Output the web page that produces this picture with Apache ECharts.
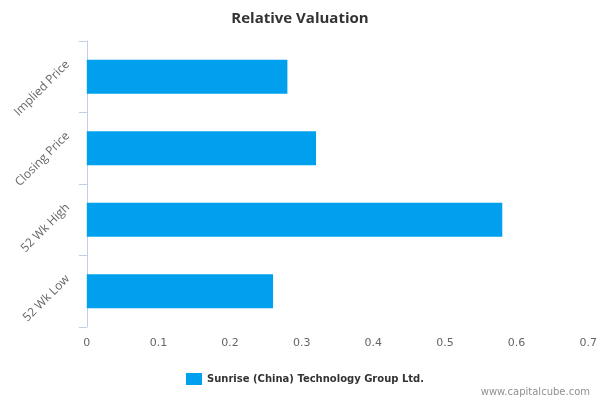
<!DOCTYPE html>
<html>
<head>
<meta charset="utf-8">
<script src="https://cdn.jsdelivr.net/npm/echarts@6/dist/echarts.min.js"></script>
<style>html,body{margin:0;padding:0;background:#fff;}#c{width:600px;height:400px;}</style>
</head>
<body>
<div id="c"></div>
<script>
const categories = ["Implied Price", "Closing Price", "52 Wk High", "52 Wk Low"];
const values = [0.28, 0.32, 0.58, 0.26];
const seriesName = "Sunrise (China) Technology Group Ltd.";
const titleText = "Relative Valuation";
const watermark = "www.capitalcube.com";

const chart = echarts.init(document.getElementById('c'));
chart.setOption({
  animation: false,
  textStyle: { fontFamily: 'DejaVu Sans' },
  title: {
    text: titleText, left: 'center', top: 6,
    textStyle: { fontSize: 15, fontWeight: 'bold', color: '#333', fontFamily: 'Open Sans' }
  },
  graphic: [{
    type: 'text', right: 10, top: 387,
    style: { text: watermark, fill: '#909090', fontSize: 10, fontFamily: 'DejaVu Sans' }
  }],
  legend: {
    bottom: 10, left: 181,
    itemWidth: 16, itemHeight: 12, itemGap: 8,
    icon: 'rect',
    textStyle: { fontSize: 10, fontWeight: 'bold', color: '#333', fontFamily: 'DejaVu Sans' },
    data: [seriesName]
  },
  grid: { left: 86, right: 9, top: 41, bottom: 73, containLabel: false },
  xAxis: {
    type: 'value', min: 0, max: 0.7, interval: 0.1,
    axisLine: { show: false }, axisTick: { show: false },
    splitLine: { show: false },
    axisLabel: { color: '#666', fontSize: 11, margin: 11, fontFamily: 'DejaVu Sans' }
  },
  yAxis: {
    type: 'category', data: categories, inverse: true,
    axisLine: { show: true, lineStyle: { color: '#c0d0e0', width: 1 } },
    axisTick: { show: true, length: 8, lineStyle: { color: '#c0d0e0' } },
    axisLabel: { rotate: 45, color: '#666', fontSize: 12, margin: 5, fontFamily: 'Open Sans',
                 verticalAlign: 'bottom', lineHeight: 40 }
  },
  series: [{
    name: seriesName, type: 'bar', data: values,
    barWidth: 34,
    itemStyle: { color: '#00a0ee' }
  }]
});
</script>
</body>
</html>
